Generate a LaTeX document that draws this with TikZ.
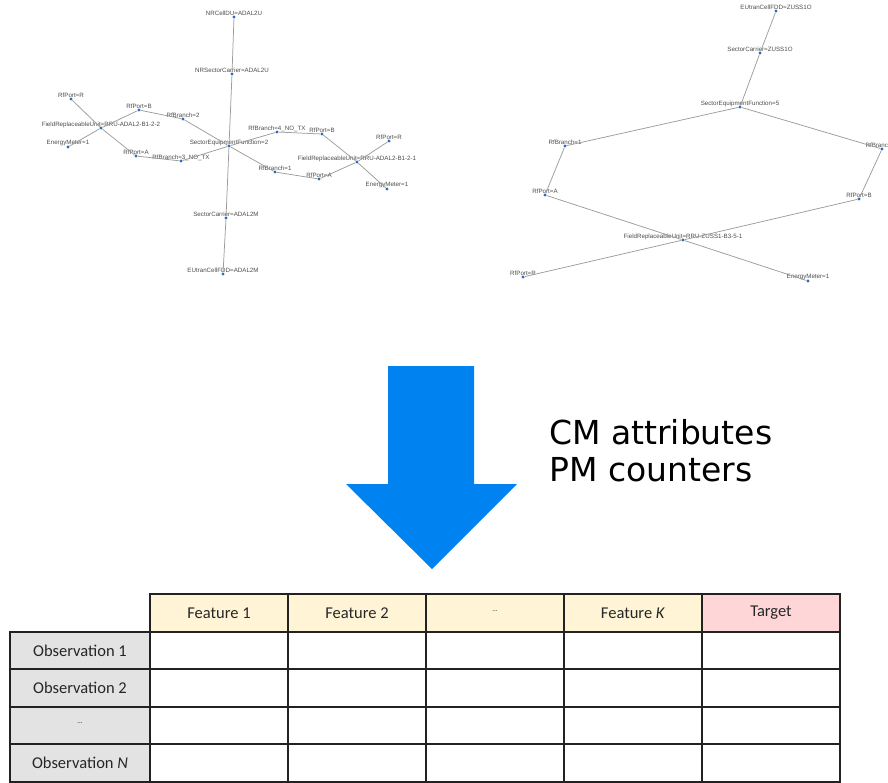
\documentclass[tikz,border=0pt]{standalone}
\usepackage{fontspec}
\newfontfamily\lblfont{Liberation Sans}
\newfontfamily\bigfont{DejaVu Sans}
\newfontfamily\tabfont{Carlito}
\definecolor{edgegray}{HTML}{9C9C9C}
\definecolor{dotblue}{HTML}{2A6EBB}
\definecolor{arrowblue}{HTML}{0082F0}
\definecolor{featfill}{HTML}{FFF5D6}
\definecolor{targfill}{HTML}{FFD6D8}
\definecolor{obsfill}{HTML}{E3E3E3}
\definecolor{gridline}{HTML}{222222}
\tikzset{
  gnode/.style={circle,fill=dotblue,inner sep=0pt,minimum size=3.2pt},
  lbl/.style={font=\lblfont\fontsize{6.2}{7}\selectfont,text=black!70,inner sep=0pt},
  gedge/.style={draw=edgegray,line width=0.75pt},
  cell/.style={draw=gridline,line width=2pt,minimum width=138pt,minimum height=37.5pt,inner sep=0pt,outer sep=0pt,
    font=\tabfont\fontsize{16.5}{19}\selectfont,text=black!85},
  featcell/.style={cell,fill=featfill},
  targcell/.style={cell,fill=targfill},
  obscell/.style={cell,minimum width=140pt,fill=obsfill},
  datacell/.style={cell,fill=white},
}
\newcommand{\gn}[4]{\node[gnode,label={[lbl,yshift=3.6pt]center:#4}] (#1) at (#2,#3) {};}
\begin{document}
\begin{tikzpicture}[x=1pt,y=-1pt]
\useasboundingbox (0,0) rectangle (888,782);
% ---------------- left graph ----------------
\gn{nrcell}{234}{17}{NRCellDU=ADAL2U}
\gn{nrsc}{232}{74}{NRSectorCarrier=ADAL2U}
\gn{sef2}{229}{146}{SectorEquipmentFunction=2}
\gn{sc2m}{226}{218}{SectorCarrier=ADAL2M}
\gn{eu2m}{223}{274}{EUtranCellFDD=ADAL2M}
\gn{lrfr}{71}{99}{RfPort=R}
\gn{lrfb}{139}{110}{RfPort=B}
\gn{rb2}{183}{119}{RfBranch=2}
\gn{fru22}{101}{128}{FieldReplaceableUnit=RRU-ADAL2-B1-2-2}
\gn{lem}{68}{147}{EnergyMeter=1}
\gn{lrfa}{136}{156}{RfPort=A}
\gn{rb3}{181}{161}{RfBranch=3\_NO\_TX}
\gn{rb4}{277}{132}{RfBranch=4\_NO\_TX}
\gn{rrfb}{322}{134}{RfPort=B}
\gn{rrfr}{389}{141}{RfPort=R}
\gn{fru21}{357}{162}{FieldReplaceableUnit=RRU-ADAL2-B1-2-1}
\gn{rb1}{275}{172}{RfBranch=1}
\gn{rrfa}{319}{179}{RfPort=A}
\gn{rem}{387}{189}{EnergyMeter=1}
\draw[gedge] (nrcell) -- (nrsc) -- (sef2) -- (sc2m) -- (eu2m);
\draw[gedge] (sef2) -- (rb2) -- (lrfb) -- (fru22);
\draw[gedge] (fru22) -- (lrfr);
\draw[gedge] (fru22) -- (lem);
\draw[gedge] (fru22) -- (lrfa) -- (rb3) -- (sef2);
\draw[gedge] (sef2) -- (rb4) -- (rrfb) -- (fru21);
\draw[gedge] (fru21) -- (rrfr);
\draw[gedge] (fru21) -- (rem);
\draw[gedge] (fru21) -- (rrfa) -- (rb1) -- (sef2);
% ---------------- right graph ----------------
\gn{euz}{776}{11}{EUtranCellFDD=ZUSS1O}
\gn{scz}{760}{53}{SectorCarrier=ZUSS1O}
\gn{sef5}{740}{107}{SectorEquipmentFunction=5}
\gn{zrb1}{565}{146}{RfBranch=1}
\gn{zrb2}{882}{149}{RfBranch=2}
\gn{zrfa}{545}{195}{RfPort=A}
\gn{zrfb}{859}{199}{RfPort=B}
\gn{fruz}{683}{240}{FieldReplaceableUnit=RRU-ZUSS1-B3-5-1}
\gn{zrfr}{523}{277}{RfPort=R}
\gn{zem}{808}{281}{EnergyMeter=1}
\draw[gedge] (euz) -- (scz) -- (sef5);
\draw[gedge] (sef5) -- (zrb1) -- (zrfa) -- (fruz);
\draw[gedge] (sef5) -- (zrb2) -- (zrfb) -- (fruz);
\draw[gedge] (fruz) -- (zrfr);
\draw[gedge] (fruz) -- (zem);
% ---------------- arrow and text ----------------
\fill[arrowblue] (388,366) -- (474,366) -- (474,484) -- (517,484) -- (432,569) -- (346,484) -- (388,484) -- cycle;
\node[anchor=north west,inner sep=0pt,align=left,font=\bigfont\fontsize{33}{37}\selectfont] (cmpm) at (549,419) {CM attributes\\PM counters};
% ---------------- table ----------------
\node[featcell] (h1) at (219,613) {Feature 1};
\node[featcell] (h2) at (357,613) {Feature 2};
\node[featcell] (h3) at (495,613) {\raisebox{0.5ex}{\scriptsize...}};
\node[featcell] (h4) at (633,613) {Feature \textit{K}};
\node[targcell] (h5) at (771,613) {Target};
\foreach \r/\y/\t in {1/650.5/Observation 1,2/688/Observation 2,3/725.5/\raisebox{0.5ex}{\scriptsize...},4/763/Observation \textit{N}}{
  \node[obscell] (o\r) at (80,\y) {\t};
  \foreach \c/\x in {1/219,2/357,3/495,4/633,5/771}{
    \node[datacell] (d\r\c) at (\x,\y) {};
  }
}
\end{tikzpicture}
\end{document}
